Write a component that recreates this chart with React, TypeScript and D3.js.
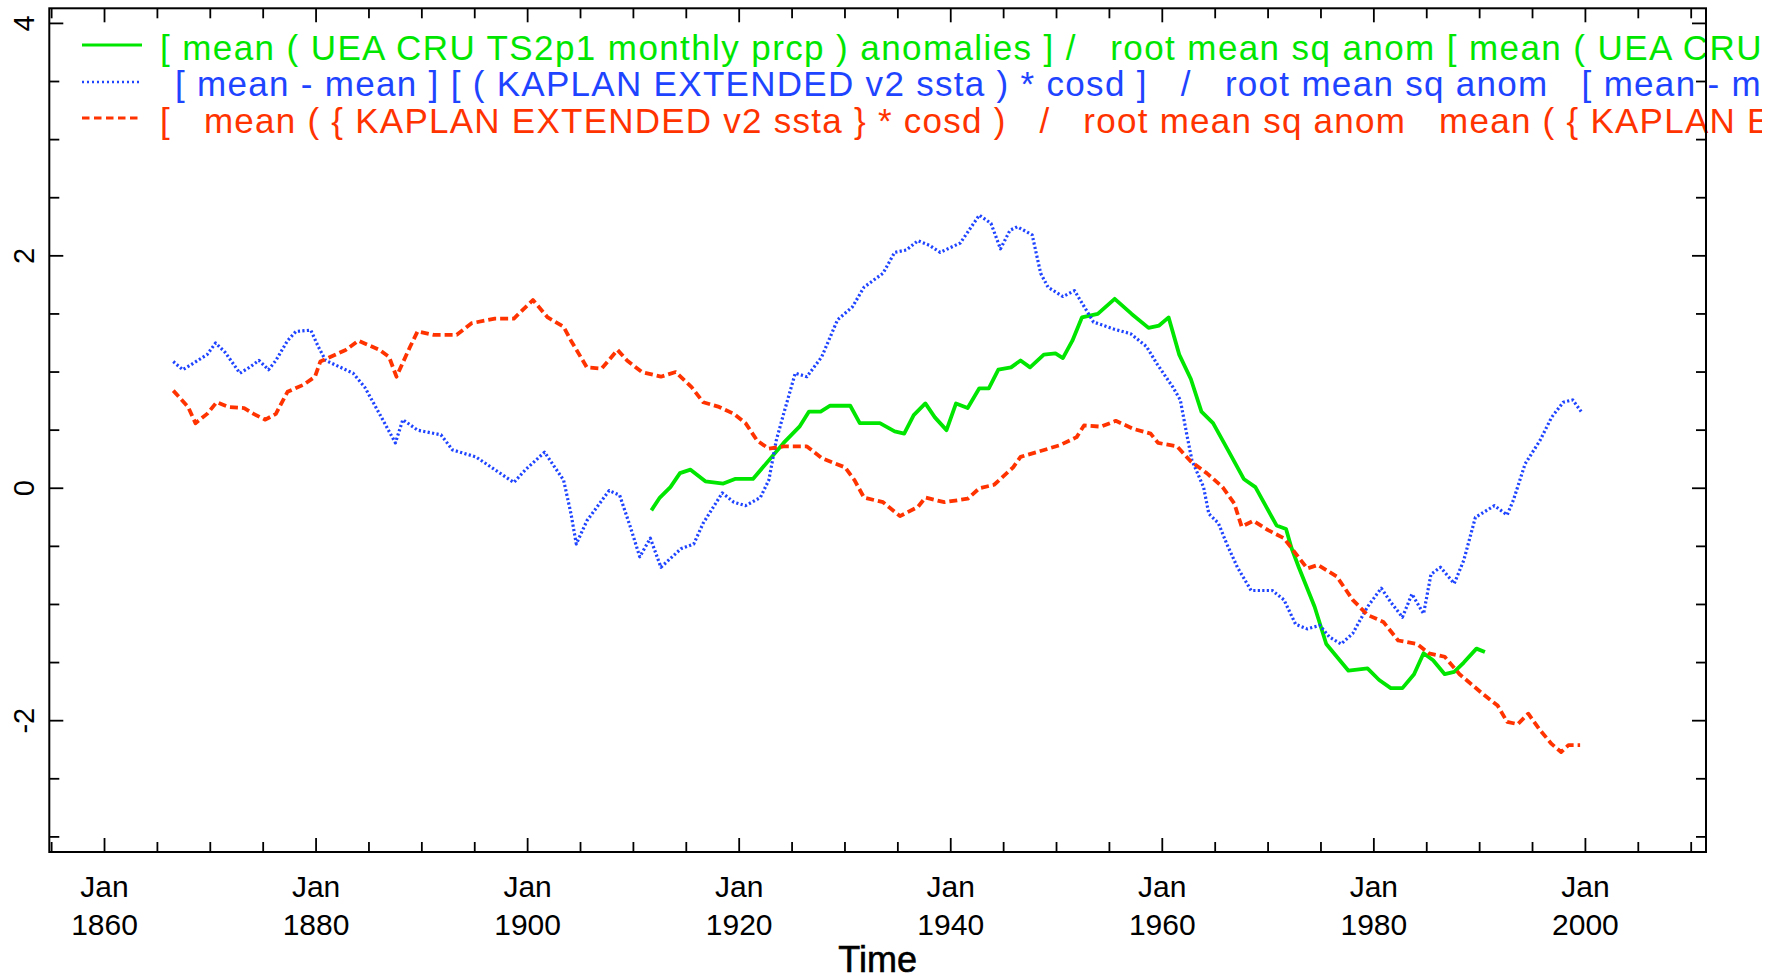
import React from "react";
import * as d3 from "d3";

// ---- data (year, value) ----
const greenSeries: [number, number][] = [
  [1911.7, -0.19], [1912.5, -0.08], [1913.5, 0.01], [1914.4, 0.13], [1915.4, 0.16], [1916.8, 0.06],
  [1918.5, 0.04], [1919.6, 0.08], [1921.3, 0.08], [1922.8, 0.24], [1924.2, 0.39], [1925.7, 0.53],
  [1926.6, 0.66], [1927.7, 0.66], [1928.6, 0.71], [1930.5, 0.71], [1931.4, 0.56], [1933.3, 0.56],
  [1934.7, 0.49], [1935.6, 0.47], [1936.5, 0.63], [1937.6, 0.73], [1938.5, 0.61], [1939.6, 0.5],
  [1940.5, 0.73], [1941.6, 0.69], [1942.7, 0.86], [1943.6, 0.86], [1944.5, 1.02], [1945.7, 1.04],
  [1946.6, 1.1], [1947.5, 1.04], [1948.8, 1.15], [1949.9, 1.16], [1950.6, 1.12], [1951.5, 1.27],
  [1952.4, 1.47], [1953.9, 1.5], [1955.5, 1.63], [1957.1, 1.5], [1958.7, 1.38], [1959.7, 1.4],
  [1960.6, 1.47], [1961.6, 1.15], [1962.7, 0.94], [1963.7, 0.66], [1964.8, 0.56], [1966.2, 0.33],
  [1967.7, 0.08], [1968.8, 0.01], [1970.8, -0.32], [1971.7, -0.35], [1972.2, -0.51], [1972.9, -0.68],
  [1974.4, -1.02], [1975.5, -1.34], [1977.6, -1.57], [1979.4, -1.55], [1980.5, -1.65], [1981.6, -1.72],
  [1982.7, -1.72], [1983.8, -1.6], [1984.7, -1.42], [1985.6, -1.48], [1986.7, -1.6], [1987.6, -1.58],
  [1988.5, -1.5], [1989.7, -1.38], [1990.5, -1.41],
];

const blueSeries: [number, number][] = [
  [1866.5, 1.09], [1867.4, 1.02], [1868.3, 1.07], [1869.7, 1.15], [1870.5, 1.25], [1871.4, 1.17],
  [1872.8, 0.99], [1873.7, 1.04], [1874.6, 1.1], [1875.5, 1.02], [1876.2, 1.1], [1877.3, 1.27],
  [1878.1, 1.35], [1879.5, 1.36], [1880.2, 1.22], [1880.9, 1.1], [1883.5, 0.99], [1884.6, 0.87],
  [1886.0, 0.64], [1887.5, 0.39], [1888.2, 0.59], [1889.6, 0.5], [1891.8, 0.46], [1892.9, 0.33],
  [1895.1, 0.27], [1896.9, 0.16], [1898.7, 0.05], [1899.8, 0.16], [1901.6, 0.31], [1903.4, 0.07],
  [1904.1, -0.22], [1904.6, -0.48], [1905.6, -0.28], [1907.7, -0.02], [1908.7, -0.06], [1909.7, -0.33],
  [1910.6, -0.59], [1911.6, -0.43], [1912.6, -0.68], [1914.5, -0.52], [1915.7, -0.48], [1916.6, -0.3],
  [1918.4, -0.04], [1919.5, -0.12], [1920.6, -0.15], [1922.0, -0.08], [1922.8, 0.07], [1923.5, 0.41],
  [1924.2, 0.64], [1925.3, 0.99], [1926.4, 0.96], [1927.8, 1.13], [1929.3, 1.45], [1930.7, 1.56],
  [1931.8, 1.73], [1933.6, 1.85], [1934.7, 2.03], [1935.8, 2.05], [1936.9, 2.13], [1938.0, 2.09],
  [1939.0, 2.03], [1940.9, 2.11], [1942.7, 2.35], [1943.8, 2.28], [1944.7, 2.06], [1945.6, 2.22],
  [1946.3, 2.25], [1947.7, 2.18], [1948.5, 1.85], [1949.2, 1.73], [1950.6, 1.65], [1951.7, 1.7],
  [1953.5, 1.43], [1955.4, 1.37], [1957.0, 1.33], [1958.5, 1.22], [1959.5, 1.07], [1961.0, 0.87],
  [1961.7, 0.76], [1962.3, 0.47], [1962.8, 0.24], [1963.9, 0.01], [1964.4, -0.22], [1965.3, -0.3],
  [1966.1, -0.48], [1967.1, -0.68], [1968.4, -0.88], [1970.4, -0.88], [1971.5, -0.96], [1972.6, -1.17],
  [1973.7, -1.21], [1974.9, -1.18], [1975.8, -1.28], [1976.9, -1.34], [1978.0, -1.25], [1979.4, -1.02],
  [1980.7, -0.86], [1981.6, -0.98], [1982.7, -1.11], [1983.6, -0.91], [1984.7, -1.08], [1985.4, -0.74],
  [1986.3, -0.68], [1987.6, -0.82], [1988.5, -0.62], [1989.6, -0.25], [1991.4, -0.15], [1992.6, -0.23],
  [1993.2, -0.1], [1994.3, 0.21], [1995.7, 0.41], [1996.8, 0.61], [1997.9, 0.74], [1998.8, 0.76],
  [1999.6, 0.66],
];

const redSeries: [number, number][] = [
  [1866.5, 0.84], [1867.9, 0.7], [1868.6, 0.56], [1869.7, 0.64], [1870.6, 0.74], [1871.7, 0.7],
  [1873.2, 0.69], [1874.1, 0.64], [1875.2, 0.59], [1876.2, 0.64], [1877.3, 0.83], [1878.8, 0.89],
  [1879.9, 0.96], [1880.4, 1.09], [1882.8, 1.19], [1884.0, 1.27], [1886.0, 1.19], [1886.9, 1.13],
  [1887.6, 0.96], [1888.9, 1.22], [1889.6, 1.35], [1891.1, 1.32], [1893.3, 1.32], [1894.7, 1.42],
  [1896.9, 1.46], [1898.7, 1.46], [1900.5, 1.62], [1901.9, 1.47], [1903.4, 1.39], [1904.1, 1.27],
  [1905.6, 1.04], [1907.0, 1.03], [1908.5, 1.19], [1909.4, 1.1], [1910.8, 1.0], [1912.6, 0.96],
  [1914.0, 1.0], [1915.5, 0.87], [1916.6, 0.74], [1918.1, 0.7], [1919.5, 0.64], [1920.6, 0.56],
  [1921.7, 0.41], [1922.8, 0.34], [1924.2, 0.36], [1926.4, 0.36], [1927.8, 0.26], [1930.0, 0.18],
  [1930.9, 0.07], [1931.8, -0.08], [1933.6, -0.12], [1935.2, -0.24], [1936.9, -0.16], [1937.6, -0.08],
  [1939.4, -0.12], [1941.6, -0.09], [1942.7, 0.0], [1944.1, 0.03], [1945.9, 0.18], [1946.6, 0.27],
  [1948.1, 0.31], [1950.3, 0.37], [1951.9, 0.44], [1952.6, 0.54], [1954.2, 0.53], [1955.6, 0.58],
  [1957.3, 0.51], [1958.9, 0.47], [1959.6, 0.39], [1961.4, 0.36], [1962.7, 0.23], [1964.2, 0.13],
  [1965.7, 0.01], [1966.8, -0.13], [1967.5, -0.33], [1968.6, -0.28], [1970.0, -0.36], [1971.5, -0.43],
  [1972.6, -0.56], [1973.7, -0.69], [1974.7, -0.66], [1976.5, -0.76], [1978.0, -0.96], [1979.4, -1.09],
  [1980.9, -1.15], [1982.3, -1.31], [1984.1, -1.34], [1985.2, -1.42], [1986.7, -1.45], [1988.1, -1.6],
  [1990.3, -1.77], [1991.7, -1.87], [1992.6, -2.01], [1993.6, -2.03], [1994.6, -1.94], [1995.7, -2.08],
  [1996.8, -2.2], [1997.7, -2.27], [1998.4, -2.21], [1999.5, -2.21],
];

const legendLabels: string[] = [
  "[ mean ( UEA CRU TS2p1 monthly prcp ) anomalies ] /   root mean sq anom [ mean ( UEA CRU TS2p1 monthly prcp ) anomalies ]",
  "[ mean - mean ] [ ( KAPLAN EXTENDED v2 ssta ) * cosd ]   /   root mean sq anom   [ mean - mean ] [ ( KAPLAN EXTENDED v2 ssta ) * cosd ]",
  "[   mean ( { KAPLAN EXTENDED v2 ssta } * cosd )   /   root mean sq anom   mean ( { KAPLAN EXTENDED v2 ssta } * cosd )",
];

const xMajorTicks: number[] = [1860, 1880, 1900, 1920, 1940, 1960, 1980, 2000];
const yMajorTicks: number[] = [-2, 0, 2, 4];
const yTickLabels: string[] = ["-2", "0", "2", "4"];
const xAxisTitle = "Time";

const W = 1782;
const H = 977;
const FONT = "'Liberation Sans', Arial, Helvetica, sans-serif";

export default function App() {
  const left = 49.3, right = 1706, top = 8.3, bottom = 852;
  const x = d3.scaleLinear().domain([1854.78, 2011.4]).range([left, right]);
  const y = d3.scaleLinear().domain([-3.13, 4.13]).range([bottom, top]);
  const line = d3.line<[number, number]>().x((d) => x(d[0])).y((d) => y(d[1]));

  const xMinor = d3.range(1855, 2011, 5);
  const yMinor = d3.range(-3, 4.01, 0.5);

  const series = [
    { data: greenSeries, color: "#00e600", width: 3.8, dash: undefined as string | undefined, legDash: undefined as string | undefined, legW: 3, label: legendLabels[0], lx: 160, ly: 59.5, sy: 45, ls: 1.4 },
    { data: blueSeries, color: "#1f44ff", width: 3.2, dash: "2.2 2.3", legDash: "2 3", legW: 2.5, label: legendLabels[1], lx: 175, ly: 96, sy: 82, ls: 1.3 },
    { data: redSeries, color: "#ff3300", width: 3.8, dash: "8 4", legDash: "7.5 4.5", legW: 3, label: legendLabels[2], lx: 160, ly: 132.5, sy: 118, ls: 1.25 },
  ];

  return (
    <svg width={W} height={H} style={{ position: "absolute", left: 0, top: 0, background: "#fff" }}>
      <defs>
        <clipPath id="plotclip">
          <rect x={left} y={top} width={right - left} height={bottom - top} />
        </clipPath>
        <clipPath id="legendclip">
          <rect x={0} y={0} width={1762} height={H} />
        </clipPath>
      </defs>
      <rect x={0} y={0} width={W} height={H} fill="#fff" />

      {/* data lines */}
      <g clipPath="url(#plotclip)">
        {series.map((s, i) => (
          <path key={i} d={line(s.data) || ""} fill="none" stroke={s.color} strokeWidth={s.width}
            strokeDasharray={s.dash} strokeLinejoin="round" />
        ))}
      </g>

      {/* legend */}
      <g clipPath="url(#legendclip)">
        {series.map((s, i) => (
          <g key={"lg" + i}>
            <line x1={82} x2={142} y1={s.sy} y2={s.sy} stroke={s.color} strokeWidth={s.legW}
              strokeDasharray={s.legDash} />
            <text x={s.lx} y={s.ly} fill={s.color} fontFamily={FONT} fontSize={35} letterSpacing={s.ls}
              style={{ whiteSpace: "pre" }} xmlSpace="preserve">{s.label}</text>
          </g>
        ))}
      </g>

      {/* frame */}
      <rect x={left} y={top} width={right - left} height={bottom - top} fill="none" stroke="#000" strokeWidth={2} />

      {/* x ticks */}
      {xMinor.map((t) => {
        const major = xMajorTicks.includes(t);
        const len = major ? 14 : 10;
        return (
          <g key={"xt" + t}>
            <line x1={x(t)} x2={x(t)} y1={bottom} y2={bottom - len} stroke="#000" strokeWidth={1.8} />
            <line x1={x(t)} x2={x(t)} y1={top} y2={top + len} stroke="#000" strokeWidth={1.8} />
          </g>
        );
      })}
      {/* y ticks */}
      {yMinor.map((t) => {
        const major = yMajorTicks.some((m) => Math.abs(m - t) < 1e-6);
        const len = major ? 14 : 10;
        return (
          <g key={"yt" + t}>
            <line x1={left} x2={left + len} y1={y(t)} y2={y(t)} stroke="#000" strokeWidth={1.8} />
            <line x1={right} x2={right - len} y1={y(t)} y2={y(t)} stroke="#000" strokeWidth={1.8} />
          </g>
        );
      })}

      {/* x tick labels */}
      {xMajorTicks.map((t) => (
        <g key={"xl" + t} fontFamily={FONT} fontSize={30} fill="#000" textAnchor="middle">
          <text x={x(t)} y={897}>Jan</text>
          <text x={x(t)} y={935}>{String(t)}</text>
        </g>
      ))}
      {/* y tick labels */}
      {yMajorTicks.map((t, i) => (
        <text key={"yl" + t} transform={`translate(34,${y(t)}) rotate(-90)`} fontFamily={FONT}
          fontSize={29} textAnchor="middle" fill="#000">{yTickLabels[i]}</text>
      ))}

      {/* axis title */}
      <text x={(left + right) / 2} y={972} fontFamily={FONT} fontSize={36} textAnchor="middle"
        fill="#000" stroke="#000" strokeWidth={0.6}>{xAxisTitle}</text>
    </svg>
  );
}
